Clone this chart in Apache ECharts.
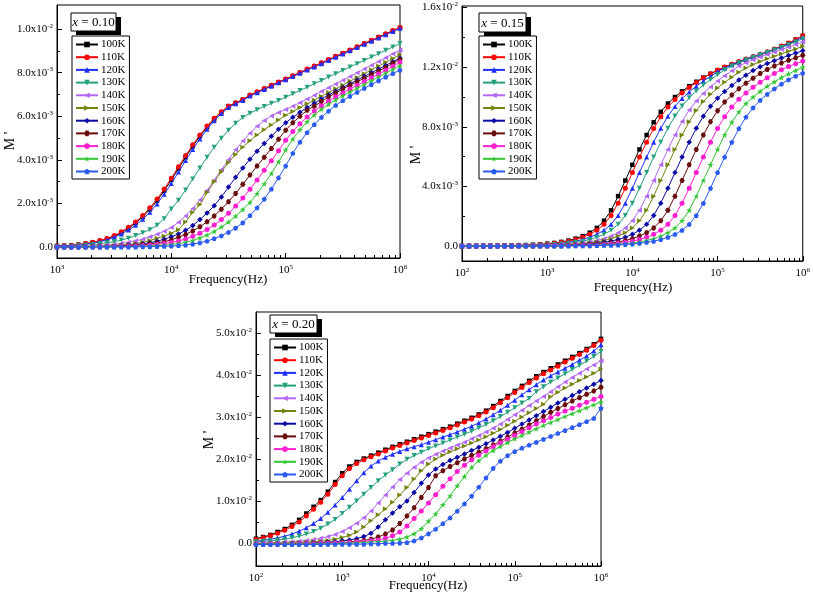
<!DOCTYPE html>
<html><head><meta charset="utf-8">
<script src="https://cdn.jsdelivr.net/npm/echarts@6/dist/echarts.min.js"></script>
<style>html,body{margin:0;padding:0;background:#fff}#c{width:813px;height:595px}</style>
</head><body><div id="c"></div>
<script>
// log10(frequency / Hz)
const lgA = [3,3.0625,3.125,3.1875,3.25,3.3125,3.375,3.4375,3.5,3.5625,3.625,3.6875,3.75,3.8125,3.875,3.9375,4,4.0625,4.125,4.1875,4.25,4.3125,4.375,4.4375,4.5,4.5625,4.625,4.6875,4.75,4.8125,4.875,4.9375,5,5.0625,5.125,5.1875,5.25,5.3125,5.375,5.4375,5.5,5.5625,5.625,5.6875,5.75,5.8125,5.875,5.9375,6];
const lgB = [2,2.083,2.167,2.25,2.333,2.417,2.5,2.583,2.667,2.75,2.833,2.917,3,3.083,3.167,3.25,3.333,3.417,3.5,3.583,3.667,3.75,3.833,3.917,4,4.083,4.167,4.25,4.333,4.417,4.5,4.583,4.667,4.75,4.833,4.917,5,5.083,5.167,5.25,5.333,5.417,5.5,5.583,5.667,5.75,5.833,5.917,6];
const tempNames = ['100K','110K','120K','130K','140K','150K','160K','170K','180K','190K','200K'];

// Panel x = 0.10, M' in units of 1e-3
const a100 = [0.05,0.06,0.08,0.11,0.15,0.21,0.28,0.37,0.50,0.66,0.86,1.10,1.39,1.73,2.12,2.58,3.08,3.60,4.12,4.62,5.08,5.50,5.87,6.18,6.45,6.60,6.75,6.95,7.10,7.25,7.40,7.55,7.69,7.84,7.99,8.14,8.28,8.43,8.58,8.73,8.87,9.02,9.17,9.32,9.46,9.61,9.76,9.91,10.05];
const a110 = [0.05,0.06,0.08,0.11,0.16,0.22,0.30,0.39,0.53,0.70,0.91,1.15,1.45,1.80,2.20,2.66,3.16,3.68,4.20,4.69,5.14,5.55,5.91,6.21,6.47,6.62,6.77,6.97,7.12,7.27,7.42,7.57,7.71,7.86,8.01,8.16,8.30,8.45,8.60,8.75,8.89,9.04,9.19,9.34,9.48,9.63,9.78,9.93,10.07];
const a120 = [0.04,0.05,0.07,0.10,0.13,0.18,0.25,0.33,0.45,0.60,0.78,1.00,1.28,1.60,1.98,2.42,2.92,3.44,3.97,4.48,4.96,5.40,5.79,6.12,6.40,6.57,6.72,6.93,7.08,7.23,7.38,7.53,7.67,7.82,7.97,8.12,8.26,8.41,8.56,8.71,8.85,9.00,9.15,9.30,9.44,9.59,9.74,9.89,10.03];
const a130 = [0.02,0.03,0.04,0.06,0.08,0.11,0.15,0.20,0.25,0.32,0.41,0.53,0.66,0.80,1.00,1.30,1.75,2.15,2.62,3.12,3.63,4.12,4.58,4.99,5.36,5.68,5.94,6.14,6.30,6.45,6.59,6.72,6.87,7.03,7.18,7.33,7.49,7.64,7.80,7.95,8.10,8.26,8.41,8.56,8.72,8.87,9.02,9.18,9.33];
const a140 = [0.01,0.01,0.02,0.03,0.03,0.05,0.06,0.09,0.12,0.17,0.22,0.29,0.36,0.47,0.59,0.73,0.90,1.14,1.43,1.77,2.16,2.60,3.07,3.55,4.01,4.46,4.86,5.22,5.54,5.80,6.01,6.17,6.31,6.46,6.62,6.79,6.96,7.14,7.31,7.48,7.65,7.82,7.99,8.17,8.34,8.51,8.68,8.86,9.03];
const a150 = [0.01,0.01,0.01,0.02,0.02,0.03,0.04,0.05,0.07,0.09,0.12,0.16,0.22,0.30,0.40,0.51,0.64,0.80,1.15,1.60,1.95,2.50,3.00,3.45,3.88,4.25,4.58,4.88,5.14,5.38,5.60,5.83,6.05,6.22,6.40,6.57,6.74,6.92,7.09,7.26,7.43,7.61,7.78,7.95,8.13,8.30,8.47,8.65,8.82];
const a160 = [0.01,0.01,0.01,0.01,0.02,0.02,0.03,0.03,0.04,0.06,0.08,0.11,0.15,0.20,0.27,0.36,0.47,0.60,0.77,0.99,1.26,1.56,1.90,2.30,2.75,3.20,3.63,4.03,4.40,4.75,5.08,5.40,5.70,5.95,6.18,6.40,6.60,6.79,6.97,7.15,7.32,7.49,7.66,7.83,7.99,8.16,8.33,8.50,8.67];
const a170 = [0.01,0.01,0.01,0.01,0.01,0.02,0.02,0.03,0.03,0.04,0.06,0.08,0.10,0.14,0.19,0.25,0.33,0.45,0.58,0.74,0.93,1.16,1.43,1.74,2.08,2.46,2.88,3.30,3.72,4.12,4.52,4.95,5.36,5.70,6.00,6.27,6.46,6.67,6.88,7.07,7.25,7.42,7.58,7.74,7.90,8.07,8.24,8.43,8.60];
const a180 = [0.01,0.01,0.01,0.01,0.01,0.01,0.01,0.02,0.02,0.03,0.04,0.05,0.07,0.09,0.12,0.16,0.21,0.28,0.37,0.50,0.64,0.81,1.01,1.26,1.55,1.88,2.25,2.65,3.08,3.52,3.96,4.42,4.90,5.30,5.66,5.97,6.24,6.48,6.69,6.89,7.07,7.25,7.42,7.59,7.76,7.94,8.11,8.29,8.47];
const a190 = [0.01,0.01,0.01,0.01,0.01,0.01,0.01,0.01,0.01,0.02,0.02,0.03,0.04,0.05,0.07,0.09,0.12,0.16,0.22,0.30,0.42,0.56,0.72,0.92,1.15,1.42,1.72,2.05,2.45,2.90,3.38,3.90,4.45,4.95,5.38,5.75,6.06,6.32,6.55,6.75,6.94,7.12,7.29,7.46,7.63,7.80,7.97,8.15,8.32];
const a200 = [0.01,0.01,0.01,0.01,0.01,0.01,0.01,0.01,0.01,0.01,0.01,0.01,0.02,0.02,0.03,0.04,0.05,0.07,0.10,0.14,0.20,0.28,0.39,0.52,0.68,0.88,1.12,1.45,1.80,2.20,2.66,3.18,3.72,4.30,4.82,5.25,5.62,5.95,6.24,6.50,6.72,6.92,7.10,7.28,7.46,7.63,7.80,7.96,8.12];

// Panel x = 0.15, M' in units of 1e-3
const b100 = [0.00,0.00,0.01,0.01,0.02,0.02,0.03,0.04,0.05,0.07,0.09,0.12,0.16,0.21,0.28,0.37,0.50,0.67,0.90,1.22,1.70,2.40,3.35,4.40,5.45,6.48,7.45,8.30,9.00,9.56,10.00,10.38,10.72,11.02,11.30,11.55,11.78,11.98,12.16,12.33,12.50,12.66,12.82,13.00,13.18,13.38,13.60,13.84,14.10];
const b110 = [0.00,0.00,0.01,0.01,0.02,0.02,0.03,0.04,0.05,0.06,0.08,0.11,0.14,0.19,0.25,0.33,0.44,0.59,0.79,1.06,1.46,2.05,2.88,3.88,4.93,5.97,6.97,7.89,8.67,9.32,9.83,10.26,10.63,10.97,11.27,11.56,11.80,12.01,12.20,12.38,12.55,12.71,12.87,13.04,13.22,13.41,13.62,13.85,14.10];
const b120 = [0.00,0.00,0.00,0.01,0.01,0.02,0.02,0.03,0.04,0.05,0.06,0.08,0.11,0.14,0.19,0.25,0.33,0.44,0.59,0.79,1.06,1.46,2.05,2.88,3.88,4.93,5.97,6.97,7.90,8.70,9.36,9.89,10.33,10.72,11.07,11.39,11.69,11.95,12.16,12.35,12.53,12.70,12.86,13.02,13.19,13.37,13.56,13.77,14.00];
const b130 = [0.00,0.00,0.00,0.00,0.01,0.01,0.02,0.02,0.03,0.04,0.05,0.06,0.08,0.11,0.14,0.19,0.25,0.33,0.44,0.59,0.79,1.06,1.46,2.05,2.88,3.88,4.93,5.97,6.97,7.90,8.72,9.39,9.94,10.40,10.80,11.17,11.50,11.82,12.08,12.29,12.48,12.66,12.83,12.99,13.15,13.32,13.50,13.69,13.90];
const b140 = [0.00,0.00,0.00,0.00,0.00,0.00,0.01,0.01,0.02,0.02,0.03,0.04,0.05,0.07,0.09,0.12,0.16,0.21,0.28,0.37,0.50,0.67,0.90,1.22,1.70,2.40,3.35,4.40,5.45,6.48,7.45,8.36,9.12,9.73,10.23,10.67,11.07,11.42,11.76,12.07,12.30,12.50,12.68,12.85,13.02,13.18,13.34,13.52,13.70];
const b150 = [0.00,0.00,0.00,0.00,0.00,0.00,0.00,0.01,0.01,0.02,0.02,0.03,0.04,0.05,0.07,0.09,0.12,0.16,0.21,0.28,0.37,0.50,0.67,0.90,1.22,1.70,2.40,3.35,4.40,5.45,6.48,7.45,8.34,9.09,9.69,10.18,10.60,10.99,11.33,11.66,11.95,12.18,12.38,12.56,12.73,12.90,13.06,13.22,13.40];
const b160 = [0.00,0.00,0.00,0.00,0.00,0.00,0.00,0.00,0.01,0.01,0.02,0.02,0.03,0.04,0.05,0.06,0.08,0.11,0.14,0.19,0.25,0.33,0.44,0.59,0.79,1.06,1.46,2.05,2.88,3.88,4.93,5.97,6.97,7.90,8.71,9.38,9.92,10.37,10.77,11.13,11.46,11.77,12.03,12.24,12.43,12.61,12.78,12.94,13.10];
const b170 = [0.00,0.00,0.00,0.00,0.00,0.00,0.00,0.00,0.00,0.00,0.01,0.01,0.02,0.02,0.03,0.04,0.05,0.07,0.09,0.12,0.16,0.21,0.28,0.37,0.50,0.67,0.90,1.22,1.70,2.40,3.35,4.40,5.45,6.48,7.45,8.33,9.07,9.66,10.13,10.55,10.92,11.25,11.57,11.85,12.08,12.28,12.46,12.63,12.80];
const b180 = [0.00,0.00,0.00,0.00,0.00,0.00,0.00,0.00,0.00,0.00,0.00,0.01,0.01,0.02,0.02,0.03,0.04,0.05,0.06,0.08,0.11,0.14,0.19,0.25,0.33,0.44,0.59,0.79,1.06,1.46,2.05,2.88,3.88,4.93,5.97,6.97,7.89,8.68,9.32,9.84,10.27,10.65,10.99,11.29,11.58,11.83,12.04,12.23,12.41];
const b190 = [0.00,0.00,0.00,0.00,0.00,0.00,0.00,0.00,0.00,0.00,0.00,0.00,0.00,0.01,0.01,0.02,0.02,0.03,0.04,0.05,0.07,0.09,0.12,0.16,0.21,0.28,0.37,0.50,0.67,0.90,1.22,1.70,2.40,3.35,4.40,5.45,6.48,7.45,8.30,9.00,9.56,10.00,10.38,10.72,11.02,11.30,11.55,11.78,12.00];
const b200 = [0.00,0.00,0.00,0.00,0.00,0.00,0.00,0.00,0.00,0.00,0.00,0.00,0.00,0.00,0.01,0.01,0.02,0.02,0.03,0.04,0.05,0.06,0.08,0.11,0.14,0.19,0.25,0.33,0.44,0.59,0.79,1.06,1.46,2.05,2.88,3.88,4.93,5.97,6.97,7.88,8.65,9.28,9.78,10.19,10.55,10.87,11.16,11.40,11.60];

// Panel x = 0.20, M' in units of 1e-2
const c100 = [0.10,0.14,0.19,0.26,0.33,0.43,0.55,0.70,0.86,1.02,1.22,1.45,1.66,1.82,1.93,2.01,2.08,2.15,2.22,2.29,2.35,2.41,2.47,2.53,2.59,2.65,2.71,2.77,2.84,2.91,2.98,3.06,3.15,3.26,3.38,3.50,3.62,3.74,3.86,3.97,4.07,4.16,4.25,4.34,4.43,4.52,4.62,4.73,4.86];
const c110 = [0.08,0.12,0.17,0.23,0.30,0.39,0.50,0.64,0.80,0.97,1.16,1.39,1.60,1.77,1.89,1.98,2.05,2.12,2.19,2.26,2.32,2.38,2.44,2.50,2.56,2.62,2.68,2.74,2.81,2.88,2.95,3.03,3.12,3.22,3.34,3.46,3.58,3.70,3.82,3.93,4.03,4.12,4.21,4.31,4.40,4.49,4.59,4.70,4.83];
const c120 = [0.04,0.06,0.09,0.12,0.16,0.21,0.28,0.36,0.46,0.58,0.73,0.90,1.08,1.28,1.48,1.67,1.83,1.95,2.04,2.11,2.18,2.24,2.29,2.34,2.40,2.46,2.52,2.58,2.64,2.71,2.78,2.86,2.95,3.05,3.16,3.28,3.40,3.53,3.65,3.77,3.88,3.98,4.07,4.16,4.25,4.35,4.45,4.57,4.72];
const c130 = [0.03,0.04,0.05,0.07,0.09,0.12,0.16,0.21,0.27,0.35,0.45,0.56,0.70,0.85,1.00,1.16,1.32,1.48,1.62,1.74,1.88,1.99,2.08,2.16,2.24,2.31,2.38,2.45,2.52,2.59,2.66,2.74,2.82,2.91,3.01,3.11,3.22,3.33,3.44,3.60,3.72,3.83,3.93,4.03,4.13,4.23,4.33,4.44,4.56];
const c140 = [0.00,0.00,0.01,0.01,0.02,0.03,0.04,0.06,0.08,0.11,0.15,0.20,0.27,0.36,0.47,0.60,0.76,0.95,1.14,1.33,1.51,1.66,1.80,1.92,2.02,2.11,2.19,2.26,2.33,2.40,2.48,2.56,2.64,2.73,2.83,2.94,3.05,3.16,3.27,3.38,3.49,3.60,3.72,3.83,3.94,4.04,4.14,4.24,4.34];
const c150 = [-0.02,-0.02,-0.01,-0.01,0.00,0.00,0.01,0.02,0.03,0.04,0.06,0.09,0.13,0.18,0.26,0.38,0.53,0.67,0.81,0.97,1.14,1.32,1.52,1.72,1.88,2.00,2.09,2.17,2.24,2.31,2.38,2.45,2.53,2.61,2.70,2.80,2.90,3.00,3.10,3.20,3.30,3.48,3.59,3.69,3.78,3.87,3.95,4.04,4.14];
const c160 = [-0.03,-0.03,-0.03,-0.02,-0.02,-0.02,-0.01,-0.01,0.00,0.01,0.02,0.03,0.05,0.07,0.10,0.15,0.23,0.38,0.55,0.71,0.86,1.00,1.20,1.42,1.62,1.76,1.87,1.96,2.04,2.12,2.20,2.28,2.36,2.45,2.54,2.63,2.73,2.83,2.93,3.03,3.13,3.23,3.33,3.42,3.51,3.60,3.69,3.78,3.87];
const c170 = [-0.03,-0.03,-0.03,-0.03,-0.03,-0.02,-0.02,-0.02,-0.01,-0.01,0.00,0.00,0.01,0.02,0.04,0.06,0.09,0.14,0.21,0.31,0.46,0.64,0.84,1.08,1.32,1.60,1.72,1.82,1.91,2.00,2.08,2.16,2.24,2.33,2.42,2.52,2.62,2.71,2.81,2.91,3.01,3.11,3.20,3.29,3.38,3.46,3.54,3.62,3.71];
const c180 = [-0.03,-0.03,-0.03,-0.03,-0.03,-0.03,-0.02,-0.02,-0.02,-0.01,-0.01,0.00,0.00,0.01,0.02,0.03,0.05,0.07,0.11,0.17,0.26,0.40,0.58,0.76,0.95,1.15,1.35,1.53,1.70,1.85,1.98,2.09,2.19,2.29,2.38,2.47,2.56,2.65,2.74,2.83,2.91,2.99,3.07,3.14,3.21,3.28,3.35,3.42,3.49];
const c190 = [-0.03,-0.03,-0.03,-0.03,-0.03,-0.03,-0.03,-0.03,-0.03,-0.02,-0.02,-0.02,-0.01,-0.01,0.00,0.01,0.02,0.03,0.04,0.06,0.09,0.14,0.22,0.34,0.52,0.69,0.91,1.12,1.36,1.58,1.80,1.96,2.09,2.20,2.30,2.39,2.48,2.56,2.64,2.72,2.80,2.87,2.94,3.01,3.08,3.15,3.22,3.29,3.36];
const c200 = [-0.04,-0.04,-0.04,-0.04,-0.04,-0.04,-0.04,-0.04,-0.04,-0.04,-0.03,-0.03,-0.03,-0.03,-0.03,-0.03,-0.02,-0.02,-0.01,-0.01,0.00,0.01,0.05,0.12,0.22,0.33,0.46,0.60,0.76,0.93,1.12,1.33,1.55,1.78,1.95,2.08,2.18,2.26,2.33,2.40,2.47,2.54,2.61,2.68,2.75,2.82,2.89,2.97,3.21];

const panelA = [a100,a110,a120,a130,a140,a150,a160,a170,a180,a190,a200];
const panelB = [b100,b110,b120,b130,b140,b150,b160,b170,b180,b190,b200];
const panelC = [c100,c110,c120,c130,c140,c150,c160,c170,c180,c190,c200];

const FONT = 'Liberation Serif';
const colors = ['#000000','#ff0000','#1f2fff','#24a07c','#b466f5','#74820f','#0a0aa6','#6a0d0d','#ff1fd2','#33c633','#2a5bf0'];
const DOWN = 'path://M-1,-1L1,-1L0,1Z';
const LEFT = 'path://M-1,0L1,-1L1,1Z';
const RIGHT = 'path://M1,0L-1,-1L-1,1Z';
const HEX = 'path://M-1,0L-0.5,-0.87L0.5,-0.87L1,0L0.5,0.87L-0.5,0.87Z';
const STAR = 'path://M0,-1L0.225,-0.309L0.951,-0.309L0.363,0.118L0.588,0.809L0,0.382L-0.588,0.809L-0.363,0.118L-0.951,-0.309L-0.225,-0.309Z';
const PENT = 'path://M0,-1L0.951,-0.309L0.588,0.809L-0.588,0.809L-0.951,-0.309Z';
const symbols = ['rect','circle','triangle',DOWN,LEFT,RIGHT,'diamond',HEX,'circle',STAR,PENT];
const symSizes = [4.5,5,5,5,5,5,5.5,5,5,6,5];

const rich = {
  m: {fontFamily: FONT, fontSize: 11, color: '#000'},
  s: {fontFamily: FONT, fontSize: 7, color: '#000', verticalAlign: 'top', padding: [0,0,6,0]}
};
function fmt3(v){ if (Math.abs(v) < 1e-9) return '{m|0.0}'; if (v >= 10) return '{m|' + (v/10).toFixed(1) + 'x10}{s|-2}'; return '{m|' + v.toFixed(1) + 'x10}{s|-3}'; }
function fmt2(v){ if (Math.abs(v) < 1e-9) return '{m|0.0}'; return '{m|' + v.toFixed(1) + 'x10}{s|-2}'; }
function fmtX(v){ return '{m|10}{s|' + Math.round(v) + '}'; }
function minorLog(a, b){ const out=[]; for (let n=a; n<b; n++){ for (let k=2;k<=9;k++) out.push(n + Math.log10(k)); } return out; }

const panels = [
  {grid:{left:57, top:5, width:343, height:253}, xmin:3, xmax:6, ymin:-0.5, ymax:11.1,
   yMajor:[0,2,4,6,8,10], yMinor:[1,3,5,7,9], yFmt: fmt3, lg: lgA, vals: panelA,
   legend:{left:72, top:36}, tag:{x:71, y:13, w:45, h:18, t:' = 0.10'}, fname:[228,280], mname:[10,141]},
  {grid:{left:462, top:6, width:344, height:255}, xmin:2, xmax:6, ymin:-1, ymax:16.1,
   yMajor:[0,4,8,12,16], yMinor:[2,6,10,14], yFmt: fmt3, lg: lgB, vals: panelB,
   legend:{left:479, top:36}, tag:{x:479, y:13, w:47, h:19, t:' = 0.15'}, fname:[633,288], mname:[416,155]},
  {grid:{left:256, top:312, width:345, height:254}, xmin:2, xmax:6, ymin:-0.55, ymax:5.5,
   yMajor:[0,1,2,3,4,5], yMinor:[0.5,1.5,2.5,3.5,4.5], yFmt: fmt2, lg: lgB, vals: panelC,
   legend:{left:270, top:339}, tag:{x:270, y:315, w:47, h:18, t:' = 0.20'}, fname:[428,586], mname:[209,440]}
];

const grids=[], xAxes=[], yAxes=[], series=[], legends=[], graphics=[];
panels.forEach((p, pi) => {
  grids.push(Object.assign({show:true, borderColor:'#000', borderWidth:1, backgroundColor:'#fff'}, p.grid));
  const majX = []; for (let n=p.xmin; n<=p.xmax; n++) majX.push(n);
  xAxes.push({gridIndex:pi, type:'value', position:'bottom', min:p.xmin, max:p.xmax,
    axisLine:{show:true, onZero:false, lineStyle:{color:'#000', width:1}},
    axisTick:{show:true, inside:true, length:5, customValues:majX, lineStyle:{color:'#000'}},
    axisLabel:{customValues:majX, formatter:fmtX, rich:rich, margin:6},
    splitLine:{show:false}});
  xAxes.push({gridIndex:pi, type:'value', position:'bottom', min:p.xmin, max:p.xmax,
    axisLine:{show:false, onZero:false}, axisLabel:{show:false}, splitLine:{show:false},
    axisTick:{show:true, inside:true, length:3, customValues:minorLog(p.xmin, p.xmax), lineStyle:{color:'#000'}}});
  yAxes.push({gridIndex:pi, type:'value', position:'left', min:p.ymin, max:p.ymax,
    axisLine:{show:true, onZero:false, lineStyle:{color:'#000', width:1}},
    axisTick:{show:true, inside:true, length:5, customValues:p.yMajor, lineStyle:{color:'#000'}},
    axisLabel:{customValues:p.yMajor, formatter:p.yFmt, rich:rich, margin:4},
    splitLine:{show:false}});
  yAxes.push({gridIndex:pi, type:'value', position:'left', min:p.ymin, max:p.ymax,
    axisLine:{show:false, onZero:false}, axisLabel:{show:false}, splitLine:{show:false},
    axisTick:{show:true, inside:true, length:3, customValues:p.yMinor, lineStyle:{color:'#000'}}});
  p.vals.forEach((arr, k) => {
    series.push({type:'line', name:tempNames[k], xAxisIndex:pi*2, yAxisIndex:pi*2,
      data: p.lg.map((x,i)=>[x, arr[i]]),
      symbol:symbols[k], symbolSize:symSizes[k], showSymbol:true,
      itemStyle:{color:colors[k]}, lineStyle:{color:colors[k], width:1},
      z: 2 + k/20, animation:false});
  });
  legends.push({left:p.legend.left, top:p.legend.top, orient:'vertical', data:tempNames,
    itemGap:1.7, itemWidth:22, itemHeight:7, padding:[3,4,2,3],
    borderColor:'#000', borderWidth:1, backgroundColor:'#fff', selectedMode:false,
    textStyle:{fontFamily:FONT, fontSize:11, color:'#000', lineHeight:11, padding:[0,0,0,-2]}});
  const t = p.tag;
  graphics.push({type:'rect', shape:{x:t.x+5, y:t.y+4, width:t.w, height:t.h}, style:{fill:'#000'}, z:100});
  graphics.push({type:'rect', shape:{x:t.x, y:t.y, width:t.w, height:t.h}, style:{fill:'#fff', stroke:'#000', lineWidth:1}, z:101});
  graphics.push({type:'text', x:t.x + t.w/2, y:t.y + t.h/2 + 1, z:102,
    style:{text:'{i|x}{n|' + t.t + '}', align:'center', verticalAlign:'middle',
      rich:{i:{fontFamily:FONT, fontSize:13, fontStyle:'italic', fill:'#000'}, n:{fontFamily:FONT, fontSize:13, fill:'#000'}}}});
  graphics.push({type:'text', x:p.fname[0], y:p.fname[1], z:50,
    style:{text:'Frequency(Hz)', fontFamily:FONT, fontSize:13, fill:'#000', align:'center', verticalAlign:'middle'}});
  graphics.push({type:'text', x:p.mname[0], y:p.mname[1], rotation:Math.PI/2, z:50,
    style:{text:"M '", fontFamily:FONT, fontSize:14, fill:'#000', align:'center', verticalAlign:'middle'}});
});

const chart = echarts.init(document.getElementById('c'), null, {renderer:'canvas'});
chart.setOption({
  backgroundColor:'#fff', animation:false,
  grid:grids, xAxis:xAxes, yAxis:yAxes, series:series, legend:legends, graphic:graphics
});
</script></body></html>
